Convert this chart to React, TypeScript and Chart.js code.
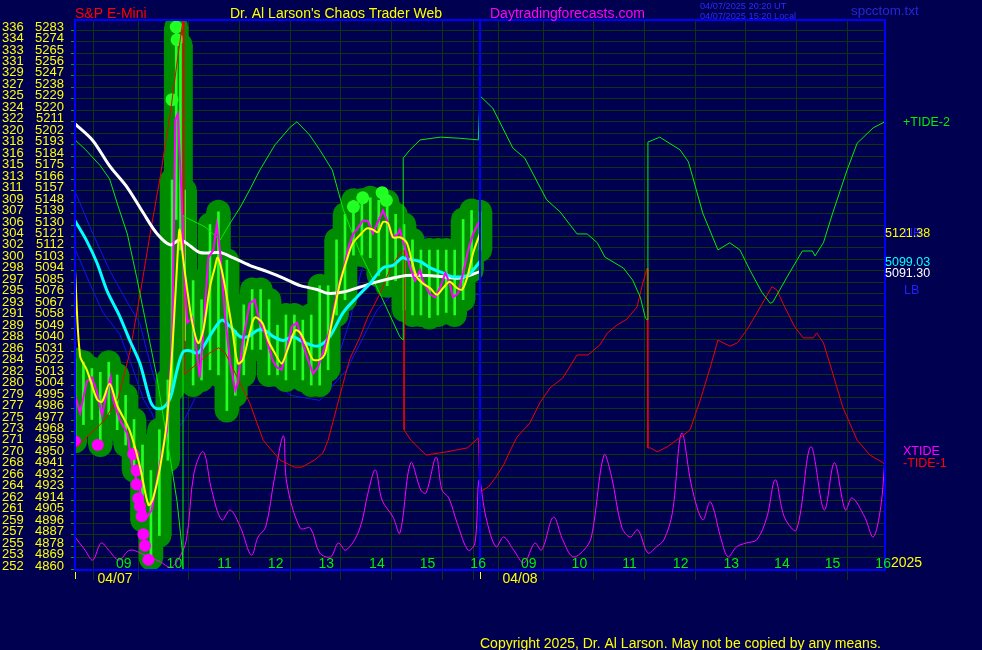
import React, { useEffect, useRef } from 'react';
import { Chart, registerables } from 'chart.js';

Chart.register(...registerables);

// ---------- axis labels ----------
const PRICE_TICKS = [5283,5274,5265,5256,5247,5238,5229,5220,5211,5202,5193,5184,5175,5166,5157,5148,5139,5130,5121,5112,5103,5094,5085,5076,5067,5058,5049,5040,5031,5022,5013,5004,4995,4986,4977,4968,4959,4950,4941,4932,4923,4914,4905,4896,4887,4878,4869,4860];
const LEFT_NUMS = [336,334,333,331,329,327,325,324,322,320,318,316,315,313,311,309,307,306,304,302,300,298,297,295,293,291,289,288,286,284,282,280,279,277,275,273,271,270,268,266,264,262,261,259,257,255,253,252];
// x = minutes of session time (0 = start of 04/07 session, 480 = start of 04/08 session)
const GRID_TICKS = [0,45,105,165,225,285,345,405,465,480,525,585,645,705,765,825,885,945];
const HOUR_TICKS = [45,105,165,225,285,345,405,465,525,585,645,705,765,825,885,945];
const HOUR_LABELS = ['09','10','11','12','13','14','15','16','09','10','11','12','13','14','15','16'];
const DAY_STARTS = [0,480];
const DATE_TICKS = [45,525];
const DATE_LABELS = ['04/07','04/08'];

// ---------- price bars (04/07) ----------
const BAR_T = [0,10,20,30,40,50,60,70,80,90,100,110,115,120,125,130,140,150,160,170,180,190,200,210,220,230,240,250,260,270,280,290,300,310,320,330,340,350,360,370,380,390,400,410,420,430,440,450,460,470,480];
const BAR_HIGH = [5022,5020,5015,5012,5020,5010,4994,4975,4955,4935,4967,5006,5163,5283,5269,5155,5084,5069,5128,5138,5100,5045,5065,5077,5077,5069,5049,5057,5057,5053,5057,5080,5080,5116,5136,5147,5147,5149,5147,5146,5136,5128,5116,5108,5108,5108,5108,5108,5132,5139,5138];
const BAR_LOW = [4958,4971,4975,4955,4979,4967,4955,4935,4896,4866,4884,4943,4998,5132,5108,5037,5002,5006,5014,5010,4982,4994,5010,5030,5030,5010,5010,5006,5014,5006,5002,5002,5014,5057,5069,5104,5104,5102,5088,5080,5084,5061,5057,5057,5055,5057,5059,5057,5069,5092,5108];

const LOW_DOT_T = [0,27,69,73,73,75,77,79,81,83,87];
const LOW_DOT_P = [4958,4955,4948,4935,4924,4913,4907,4899,4885,4876,4865];
const HIGH_DOT_T = [115,120,121,330,341,364,369];
const HIGH_DOT_P = [5226,5283,5273,5142,5149,5153,5147];

// ---------- price line & averages ----------
const CLOSE_T = [0,6,14,20,26,32,38,42,45,53,62,68,77,85,91,97,104,109,115,119,122,126,129,133,139,145,148,152,158,164,168,172,178,184,190,193,199,207,213,219,225,234,239,245,251,257,263,269,275,282,288,296,302,308,314,318,324,330,334,341,347,353,359,365,370,376,382,385,391,397,403,409,412,421,427,433,439,444,448,454,460,466,472,478,480];
const CLOSE_P = [4994,4980,5005,5008,4997,4978,4997,5008,4991,4975,4964,4938,4919,4898,4904,4927,4952,4966,5037,5210,5215,5155,5092,5051,5055,5024,5008,5043,5102,5108,5128,5106,5055,5019,4998,5004,5037,5066,5069,5051,5043,5022,5016,5014,5030,5048,5051,5037,5024,5011,5016,5032,5045,5066,5084,5092,5110,5121,5124,5131,5131,5121,5130,5139,5131,5118,5120,5124,5110,5095,5084,5092,5084,5073,5071,5079,5090,5082,5071,5074,5090,5108,5121,5129,5130];
const YELLOW_T = [0,6,14,26,32,41,50,65,77,87,92,101,109,116,122,124,128,133,139,146,152,160,166,169,174,180,187,193,199,207,213,222,229,237,245,252,261,267,275,282,290,296,302,308,314,322,329,338,346,353,359,365,371,377,385,393,399,405,412,421,429,436,444,453,459,465,472,480];
const YELLOW_P = [5092,5025,5014,4991,4989,5003,4986,4966,4938,4908,4912,4938,4975,5037,5109,5124,5102,5077,5051,5035,5045,5079,5095,5102,5092,5071,5043,5019,5022,5043,5055,5051,5037,5027,5019,5030,5045,5043,5032,5022,5022,5026,5043,5063,5082,5100,5113,5120,5125,5124,5122,5130,5129,5118,5118,5114,5100,5087,5082,5078,5073,5078,5083,5078,5077,5087,5106,5121];
const CYAN_T = [0,14,26,38,53,65,77,89,95,104,113,121,128,136,145,152,164,174,184,196,205,216,225,235,247,258,270,282,290,302,318,334,350,365,377,388,393,409,421,436,448,465,480];
const CYAN_P = [5131,5115,5098,5076,5056,5037,5019,4990,4984,4984,4992,5014,5028,5029,5027,5032,5045,5053,5048,5040,5040,5045,5045,5040,5037,5040,5036,5033,5033,5040,5059,5071,5082,5094,5096,5102,5101,5099,5094,5090,5087,5088,5099];
const WHITE_T = [0,21,41,62,81,97,113,124,133,148,172,187,207,228,247,267,287,299,318,338,358,377,393,417,436,456,480];
const WHITE_P = [5207,5194,5174,5157,5137,5121,5112,5116,5113,5106,5106,5102,5096,5091,5086,5080,5077,5074,5075,5079,5083,5086,5088,5088,5087,5086,5091];
const BAND_UP_T = [0,21,41,62,77,89,101,115,130,148,172,190,231,267,290,308,326,338,356,379,401,429,450,480];
const BAND_UP_P = [5154,5121,5092,5067,5050,5019,4991,4971,5006,5045,5069,5070,5064,5045,5030,5016,5053,5088,5128,5135,5122,5114,5110,5106];
const BAND_LO_T = [0,18,33,53,69,81,91,107,130,160,211,255,290,322,358,373,385,433,480];
const BAND_LO_P = [5109,5081,5059,5042,5014,4991,4980,4955,4975,5016,5024,4994,4990,5014,5061,5071,5075,5073,5073];

// ---------- tides (0..100 of panel height) ----------
const GREEN_T = [0,12,30,41,51,62,73,85,97,104,113,121,127,128,128,130,154,172,184,196,207,219,237,255,263,278,290,305,318,338,361,385,389,389,397,409,433,456,478,480,495,519,533,559,575,595,607,619,628,650,661,670,676,678,679,693,717,727,732,744,762,776,788,800,814,824,827,844,862,874,877,887,898,915,927,946,960];
const GREEN_V = [78.2,76.5,73.5,71.1,66.2,61.1,53.3,44.2,35.1,28.5,20.2,12.4,3.8,0,64.5,64.2,62.4,60,63.1,66,69.1,72.7,77.3,80.5,81.5,79.1,76.4,72.7,65.5,57.6,50.4,42.4,41.8,74.9,76.4,78.2,78.7,78.5,78.2,86.2,84,76.7,74.9,67.3,65.1,61.1,61.1,59.5,56.9,54.9,52.7,49.6,45.8,45.5,77.8,78.7,76.4,74.2,71.5,64.9,58.2,59.5,58.2,54.5,50.5,48.5,48.7,53.3,58,58,57.1,59.5,64.9,72.7,77.6,80.4,81.5];
const RED_T = [0,2,33,51,65,77,89,101,113,122,128,129,130,160,170,178,192,207,223,243,260,269,284,294,300,322,326,338,347,362,373,385,390,390,398,416,441,465,478,480,490,498,508,516,524,539,551,563,578,595,608,622,631,642,654,666,673,678,679,682,690,702,721,729,741,753,762,776,785,796,808,826,832,839,853,863,875,879,887,898,910,927,942,958,960];
const RED_V = [22,22.4,26.9,31.1,39.6,50,61.1,71.5,83.1,93.5,100,35.6,35.6,39.5,40.4,39.5,35.1,30.4,23.6,20,18.7,18.7,20,21.3,23.6,36.4,38.5,42.4,46,50.4,54.5,57.6,58.2,25.5,23.6,20.9,21.5,22.2,24,14.2,15.1,16.7,19.1,21.8,24.2,26.7,30.4,33.1,34.9,39.1,39.1,40.9,43.1,44.5,45.6,47.8,52.2,54.9,22.2,22.2,21.5,22.4,24.5,25.5,30.9,36.9,41.8,40.7,41.3,43.6,46.7,51.5,50.9,48.5,44.2,42.2,42.2,43.1,41.3,35.8,29.6,23.6,20.9,19.5,19];
const XT_T = [0,12,21,31,40,52,65,83,101,113,122,132,141,152,162,174,184,196,209,217,226,236,247,251,267,279,290,303,312,321,337,348,356,364,377,385,398,410,416,428,435,443,453,466,474,479,487,499,508,520,532,545,553,567,578,590,603,612,627,636,648,658,667,679,689,698,708,719,731,744,753,766,774,784,795,808,820,830,841,855,872,888,900,913,921,936,946,955,960];
const XT_V = [6,3.6,1.8,4.9,3.6,1.8,3.6,2.7,1.5,0.5,1.8,5.5,17.6,21.5,14.5,9.1,10.9,7.8,2.7,6,7.8,16.4,24.4,15.8,7.6,7.6,3.1,2.4,4.9,3.6,7.3,14.5,18.2,12.7,9.6,6.7,19.5,14.5,14,20.5,14.5,13.1,8.5,3.6,4.9,16.4,9.6,4.2,6,3.6,1.3,4.9,3.6,9.6,5.5,2.4,3.6,6,20.9,16.9,7.8,6,7.3,3.1,4.2,5.5,10.4,24.9,15.1,9.1,12.4,5.5,2.4,4.2,4.9,5.5,9.6,16.4,9.5,7.3,22.4,10.9,19.5,10.9,13.1,9.6,6,11.5,20.4];

// ---------- right-side readouts ----------
const LAST_YELLOW = '5121.38';
const LAST_CYAN = '5099.03';
const LAST_WHITE = '5091.30';

// ---------- styling ----------
const BG = '#000050';
const GRID = 'rgb(14,54,14)';
const BORDER = '#0000ff';
const YELLOW = '#ffff00';
const BLOB = '#008c00';
const LIME = '#22ff22';
const MAGENTA = '#ff00ff';
const FONT = '"Liberation Sans", Arial, sans-serif';
const PRICE_MIN = 4856.9;
const PRICE_MAX = 5288.5;
const GRID_SHIFT = 2.4;

const pts = (t: number[], v: number[]) => t.map((x, i) => ({ x, y: v[i] }));

const textPlugin = {
  id: 'chaosText',
  beforeDraw(chart: any) {
    const c = chart.ctx;
    c.save();
    c.fillStyle = BG;
    c.fillRect(0, 0, chart.width, chart.height);
    c.restore();
  },
  afterDraw(chart: any) {
    const c = chart.ctx;
    const a = chart.chartArea;
    const xs = chart.scales.x;
    const ys = chart.scales.y;
    c.save();
    // frame and day separator
    c.strokeStyle = BORDER;
    c.lineWidth = 2;
    c.strokeRect(a.left, a.top, a.right - a.left, a.bottom - a.top);
    const sep = Math.round(xs.getPixelForValue(480));
    c.beginPath();
    c.moveTo(sep, a.top);
    c.lineTo(sep, a.bottom);
    c.stroke();
    // day start markers below the axis
    c.strokeStyle = YELLOW;
    c.lineWidth = 1;
    DAY_STARTS.forEach((t) => {
      const px = Math.round(xs.getPixelForValue(t)) + 0.5;
      c.beginPath();
      c.moveTo(px, a.bottom + 2);
      c.lineTo(px, a.bottom + 9);
      c.stroke();
    });

    const txt = (s: string, x: number, y: number, color: string, size: number, align: CanvasTextAlign = 'left', base: CanvasTextBaseline = 'alphabetic') => {
      c.font = `${size}px ${FONT}`;
      c.fillStyle = color;
      c.textAlign = align;
      c.textBaseline = base;
      c.fillText(s, x, y);
    };

    // left price labels
    PRICE_TICKS.forEach((p, i) => {
      const py = ys.getPixelForValue(p);
      txt(String(LEFT_NUMS[i]), 2, py, YELLOW, 13, 'left', 'middle');
      txt(String(p), 64, py, YELLOW, 13, 'right', 'middle');
    });
    // hour labels inside the panel
    HOUR_TICKS.forEach((t, i) => {
      txt(HOUR_LABELS[i], xs.getPixelForValue(t) + 3, a.bottom - 2, '#00ee00', 14);
    });
    DATE_TICKS.forEach((t, i) => {
      txt(DATE_LABELS[i], xs.getPixelForValue(t) + 2, a.bottom + 13, YELLOW, 14, 'center');
    });
    txt('2025', a.right + 6, a.bottom - 3, YELLOW, 14);

    // header
    txt('S&P E-Mini', 75, 18, '#ff0000', 14);
    txt("Dr. Al Larson's Chaos Trader Web", 230, 18, YELLOW, 14);
    txt('Daytradingforecasts.com', 490, 18, MAGENTA, 14);
    txt('04/07/2025 20:20 UT', 700, 9, '#2a2aff', 9.2);
    txt('04/07/2025 15:20 Local', 700, 19, '#2a2aff', 9.2);
    txt('spcctom.txt', 851, 15, '#2626d8', 13.4);

    // right side readouts
    txt('+TIDE-2', 903, 126, '#00ee00', 12.5);
    txt('UB', 904, 237, '#2020ff', 12.5);
    txt(LAST_YELLOW, 885, 237, YELLOW, 12.5);
    txt(LAST_CYAN, 885, 266, '#00ffff', 12.5);
    txt(LAST_WHITE, 885, 277, '#ffffff', 12.5);
    txt('LB', 904, 294, '#2020ff', 12.5);
    txt('XTIDE', 903, 455, MAGENTA, 12.5);
    txt('-TIDE-1', 903, 467, '#ff0000', 12.5);

    txt('Copyright 2025, Dr. Al Larson. May not be copied by any means.', 480, 648, YELLOW, 14);
    c.restore();
  },
};

export default function App() {
  const ref = useRef<HTMLCanvasElement>(null);
  useEffect(() => {
    document.body.style.margin = '0';
    const bars = BAR_T.map((x, i) => ({ x, y: [BAR_LOW[i], BAR_HIGH[i]] }));
    const line = (label: string, data: any[], color: string, width: number, order: number, axis = 'y', tension = 0) => ({
      type: 'line', label, data, borderColor: color, borderWidth: width, pointRadius: 0,
      fill: false, tension, order, yAxisID: axis,
    });
    const chart = new Chart(ref.current as HTMLCanvasElement, {
      type: 'line',
      data: {
        datasets: [
          line('UB', pts(BAND_UP_T, BAND_UP_P), '#1414e6', 1, 10),
          line('LB', pts(BAND_LO_T, BAND_LO_P), '#1414e6', 1, 10),
          { type: 'bar', label: 'range', data: bars, backgroundColor: BLOB, borderWidth: 0, barThickness: 24, grouped: false, order: 9 },
          { type: 'scatter', label: 'hi', data: pts(BAR_T, BAR_HIGH), pointRadius: 12, pointBackgroundColor: BLOB, pointBorderWidth: 0, order: 9 },
          { type: 'scatter', label: 'lo', data: pts(BAR_T, BAR_LOW), pointRadius: 12, pointBackgroundColor: BLOB, pointBorderWidth: 0, order: 9 },
          { type: 'bar', label: 'hl', data: bars, backgroundColor: LIME, borderWidth: 0, barThickness: 2, grouped: false, order: 8 },
          { type: 'scatter', label: 'newlow', data: pts(LOW_DOT_T, LOW_DOT_P), pointRadius: 6, pointBackgroundColor: MAGENTA, pointBorderWidth: 0, order: 7 },
          { type: 'scatter', label: 'newhigh', data: pts(HIGH_DOT_T, HIGH_DOT_P), pointRadius: 6.5, pointBackgroundColor: LIME, pointBorderWidth: 0, order: 7 },
          line('+TIDE-2', pts(GREEN_T, GREEN_V), '#00ee00', 1, 6, 'yt'),
          line('-TIDE-1', pts(RED_T, RED_V), '#f00000', 1, 6, 'yt'),
          line('XTIDE', pts(XT_T, XT_V), MAGENTA, 1, 6, 'yt', 0.35),
          line('white', pts(WHITE_T, WHITE_P), '#ffffff', 3, 4, 'y', 0.3),
          line('cyan', pts(CYAN_T, CYAN_P), '#00ffff', 3, 3, 'y', 0.3),
          line('close', pts(CLOSE_T, CLOSE_P), MAGENTA, 2, 2),
          line('yellow', pts(YELLOW_T, YELLOW_P), YELLOW, 2, 1, 'y', 0.3),
        ] as any,
      },
      options: {
        responsive: false,
        animation: false,
        devicePixelRatio: 1,
        events: [],
        layout: { padding: { top: 20, right: 97, left: 0, bottom: 0 } },
        plugins: { legend: { display: false }, tooltip: { enabled: false }, title: { display: false } },
        scales: {
          x: {
            type: 'linear', min: 0, max: 960, offset: false,
            afterFit: (s: any) => { s.height = 80; },
            afterBuildTicks: (s: any) => { s.ticks = GRID_TICKS.map((v) => ({ value: v })); },
            ticks: { display: false },
            grid: { color: GRID, tickColor: GRID, tickLength: 10, lineWidth: 1 },
            border: { display: false },
          },
          y: {
            type: 'linear', position: 'left', min: PRICE_MIN, max: PRICE_MAX,
            afterFit: (s: any) => { s.width = 75; },
            afterBuildTicks: (s: any) => { s.ticks = PRICE_TICKS.map((v) => ({ value: v - GRID_SHIFT })); },
            ticks: { display: false },
            grid: { color: GRID, tickColor: '#00a000', tickLength: 4, lineWidth: 1 },
            border: { display: false },
          },
          yt: { type: 'linear', display: false, min: 0, max: 100 },
        },
      } as any,
      plugins: [textPlugin],
    } as any);
    return () => chart.destroy();
  }, []);
  return (
    <div style={{ width: 982, height: 650, background: BG }}>
      <canvas ref={ref} width={982} height={650} style={{ display: 'block' }} />
    </div>
  );
}
